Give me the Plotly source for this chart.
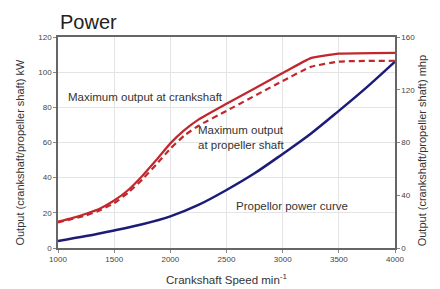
import plotly.graph_objects as go

rpm = [1000, 1125, 1250, 1375, 1500, 1625, 1750, 1875, 2000, 2125, 2250, 2500, 3000, 3250, 3500, 4000]
crankshaft_kw = [15, 17, 19.5, 22.5, 27, 33, 41, 50, 59.5, 67, 73, 82, 99.5, 108, 110.5, 111]
propshaft_kw = [14.5, 16.5, 18.5, 21.5, 25.5, 31.5, 39, 47.5, 56.5, 64, 69.5, 78, 95, 103, 106, 106.5]
prop_rpm = [1000, 1250, 1500, 1750, 2000, 2250, 2500, 2750, 3000, 3250, 3500, 3750, 4000]
prop_curve_kw = [4, 6.8, 10, 13.5, 18, 24.5, 33, 42.5, 53.5, 65, 78, 91.5, 106]

x_ticks = [1000, 1500, 2000, 2500, 3000, 3500, 4000]
y_ticks = [0, 20, 40, 60, 80, 100, 120]
y2_ticks = [0, 40, 80, 120, 160]

RED = "#c0282d"
BLUE = "#1c1c78"
TXT = "#333333"
FONT = "Liberation Sans, Arial, sans-serif"

fig = go.Figure()
fig.add_trace(go.Scatter(x=prop_rpm, y=prop_curve_kw, mode="lines",
                         line=dict(color=BLUE, width=2.5, shape="spline"), showlegend=False))
fig.add_trace(go.Scatter(x=rpm, y=propshaft_kw, mode="lines",
                         line=dict(color=RED, width=2.2, dash="6px,4px", shape="spline", smoothing=0.4),
                         showlegend=False))
fig.add_trace(go.Scatter(x=rpm, y=crankshaft_kw, mode="lines",
                         line=dict(color=RED, width=2.2, shape="spline", smoothing=0.4),
                         showlegend=False))
fig.add_trace(go.Scatter(x=[None], y=[None], yaxis="y2", showlegend=False, hoverinfo="skip"))

axis_common = dict(showline=True, linecolor="#666666", linewidth=1.5, ticks="outside",
                   ticklen=3, tickcolor="#888888", tickfont=dict(size=8, color="#444444", family=FONT),
                   zeroline=False)

fig.update_layout(
    width=440, height=289,
    margin=dict(l=58, r=45, t=37, b=41),
    paper_bgcolor="white", plot_bgcolor="white",
    font=dict(family=FONT, color=TXT),
    xaxis=dict(range=[1000, 4000], tickvals=x_ticks, mirror=True,
               showgrid=True, gridcolor="#e4e4e4", gridwidth=1, **axis_common),
    yaxis=dict(range=[0, 120], tickvals=y_ticks, showgrid=True, gridcolor="#e4e4e4",
               gridwidth=1, **axis_common),
    yaxis2=dict(range=[0, 160], tickvals=y2_ticks, overlaying="y", side="right",
                showgrid=False, **axis_common),
    annotations=[
        dict(text="Power", x=0, y=1, xref="paper", yref="paper", xanchor="left", yanchor="bottom",
             yshift=2, showarrow=False, font=dict(size=20, color="#222222")),
        dict(text="Maximum output at crankshaft", x=1070, y=86, xref="x", yref="y",
             xanchor="left", yanchor="middle", showarrow=False, font=dict(size=11.5, color=TXT)),
        dict(text="Maximum output<br>at propeller shaft", x=2230, y=63, xref="x", yref="y",
             xanchor="left", yanchor="middle", align="left", showarrow=False,
             font=dict(size=11.5, color=TXT)),
        dict(text="Propellor power curve", x=2570, y=24, xref="x", yref="y",
             xanchor="left", yanchor="middle", showarrow=False, font=dict(size=11.5, color=TXT)),
        dict(text="Output (crankshaft/propeller shaft) kW", x=-0.135, y=0.45, xref="paper",
             yref="paper", textangle=-90, showarrow=False, font=dict(size=11, color=TXT)),
        dict(text="Output (crankshaft/propeller shaft) mhp", x=1.105, y=0.46, xref="paper",
             yref="paper", textangle=-90, showarrow=False, font=dict(size=11, color=TXT)),
        dict(text="Crankshaft Speed min<sup>-1</sup>", x=0.5, y=-0.145, xref="paper", yref="paper",
             yanchor="middle", showarrow=False, font=dict(size=11.5, color=TXT)),
    ],
)

fig.write_html("out.html", post_script="document.body.style.margin='0';",
               config={"displayModeBar": False})
